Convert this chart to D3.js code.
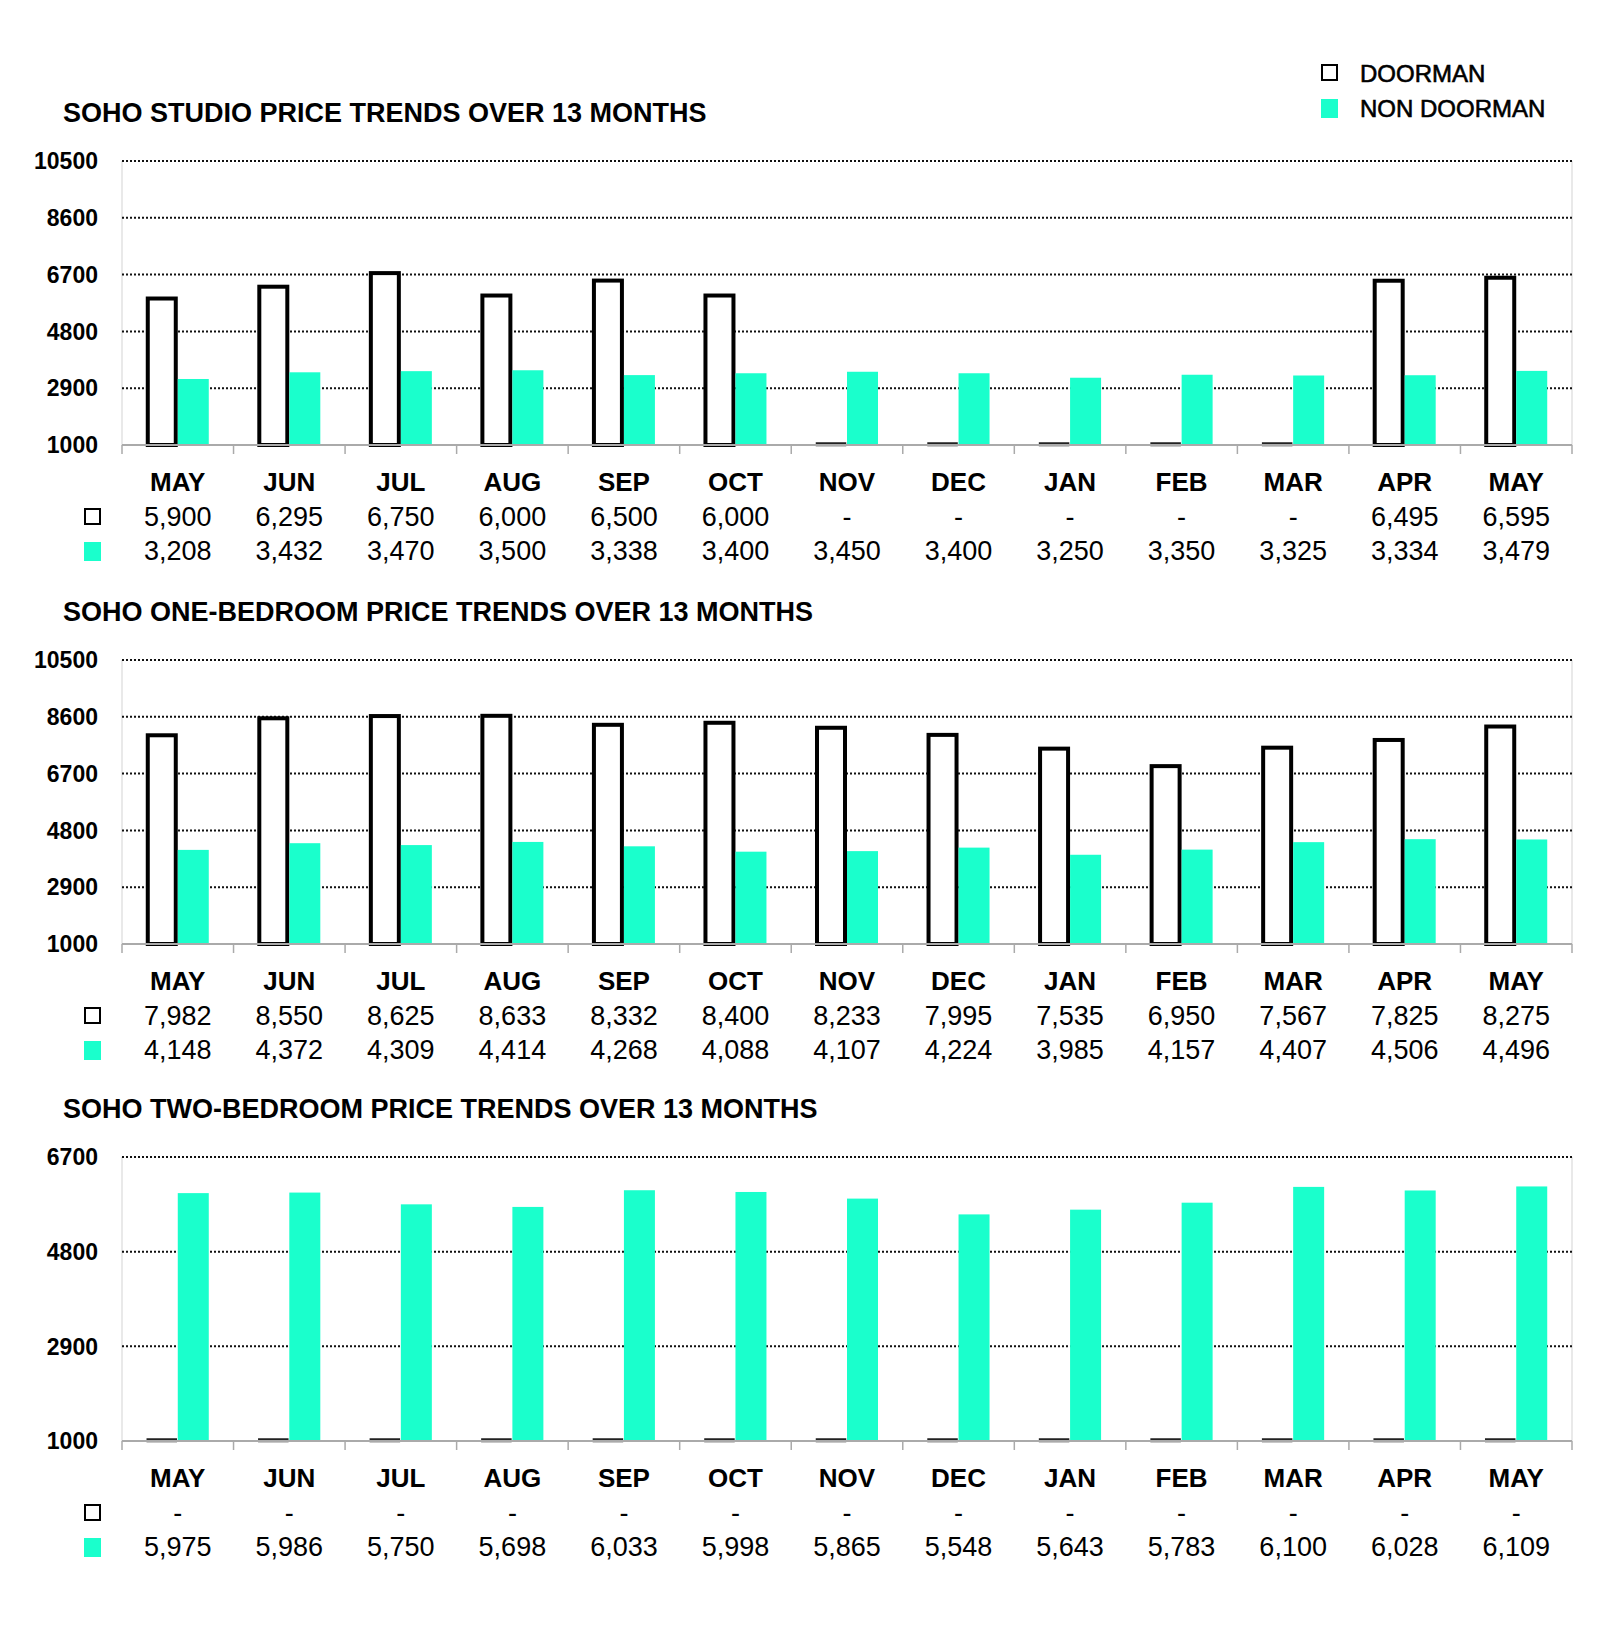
<!DOCTYPE html>
<html>
  <head>
    <meta charset="utf-8" />
    <title>SoHo price trends</title>
    <script src="https://cdn.jsdelivr.net/npm/d3@7/dist/d3.min.js"></script>
    <style>
      body { margin: 0; background: #fff; }
      text { font-family: "Liberation Sans", Arial, sans-serif; fill: #000; }
    </style>
  </head>
  <body>
    <svg width="1600" height="1641" id="mainsvg" style="display: block"></svg>
    <script>
      // data
      const months = ["MAY", "JUN", "JUL", "AUG", "SEP", "OCT", "NOV", "DEC", "JAN", "FEB", "MAR", "APR", "MAY"];
      const studioDoorman = [5900, 6295, 6750, 6000, 6500, 6000, null, null, null, null, null, 6495, 6595];
      const studioNonDoorman = [3208, 3432, 3470, 3500, 3338, 3400, 3450, 3400, 3250, 3350, 3325, 3334, 3479];
      const oneBedDoorman = [7982, 8550, 8625, 8633, 8332, 8400, 8233, 7995, 7535, 6950, 7567, 7825, 8275];
      const oneBedNonDoorman = [4148, 4372, 4309, 4414, 4268, 4088, 4107, 4224, 3985, 4157, 4407, 4506, 4496];
      const twoBedDoorman = [null, null, null, null, null, null, null, null, null, null, null, null, null];
      const twoBedNonDoorman = [5975, 5986, 5750, 5698, 6033, 5998, 5865, 5548, 5643, 5783, 6100, 6028, 6109];
      const ticksLarge = [1000, 2900, 4800, 6700, 8600, 10500];
      const ticksSmall = [1000, 2900, 4800, 6700];
      const seriesNames = ["DOORMAN", "NON DOORMAN"];

      const GREEN = "#1affcc";
      const svg = d3.select("#mainsvg");
      const plotLeft = 122, plotRight = 1572, plotH = 284;

      const charts = [
        { title: "SOHO STUDIO PRICE TRENDS OVER 13 MONTHS", top: 161, ticks: ticksLarge, door: studioDoorman, non: studioNonDoorman },
        { title: "SOHO ONE-BEDROOM PRICE TRENDS OVER 13 MONTHS", top: 660, ticks: ticksLarge, door: oneBedDoorman, non: oneBedNonDoorman },
        { title: "SOHO TWO-BEDROOM PRICE TRENDS OVER 13 MONTHS", top: 1157, ticks: ticksSmall, door: twoBedDoorman, non: twoBedNonDoorman },
      ];

      // x: one band per month, two bars sit in the middle of it
      const x = d3.scaleBand().domain(d3.range(months.length)).range([plotLeft, plotRight]);
      const barW = 32;
      const off = (x.bandwidth() - barW * 2) / 2;
      const fmt = d3.format(",");

      charts.forEach(drawChart);

      function drawChart(c) {
        const g = svg.append("g");
        const base = c.top + plotH;
        const y = d3.scaleLinear()
          .domain([c.ticks[0], c.ticks[c.ticks.length - 1]])
          .range([base, c.top])
          .clamp(true);

        g.append("text")
          .attr("x", 63)
          .attr("y", c.top - 39)
          .attr("font-size", 27)
          .attr("font-weight", "bold")
          .text(c.title);

        // faint frame sides
        [plotLeft, plotRight].forEach((px) => {
          g.append("line")
            .attr("x1", px).attr("x2", px)
            .attr("y1", c.top).attr("y2", base)
            .attr("stroke", "#e2e2e2").attr("stroke-width", 1.5);
        });

        // dotted gridlines
        g.selectAll(".grid")
          .data(c.ticks.slice(1))
          .join("line")
          .attr("x1", plotLeft).attr("x2", plotRight)
          .attr("y1", (d) => y(d)).attr("y2", (d) => y(d))
          .attr("stroke", "#111")
          .attr("stroke-width", 2)
          .attr("stroke-dasharray", "2,2");

        g.selectAll(".ytick")
          .data(c.ticks)
          .join("text")
          .attr("x", 98)
          .attr("y", (d) => y(d))
          .attr("dy", "0.36em")
          .attr("text-anchor", "end")
          .attr("font-size", 23)
          .attr("font-weight", "bold")
          .text((d) => d);

        // bars; a missing value still leaves a flat outline on the axis
        const top = (d) => (d == null ? base - 1.5 : y(d));
        g.selectAll(".door")
          .data(c.door)
          .join("rect")
          .attr("x", (d, i) => x(i) + off + 2)
          .attr("width", barW - 4)
          .attr("y", top)
          .attr("height", (d) => base - top(d))
          .attr("fill", "#fff")
          .attr("stroke", (d) => (d == null ? "#222" : "#000"))
          .attr("stroke-width", (d) => (d == null ? 2.5 : 4));

        g.selectAll(".non")
          .data(c.non)
          .join("rect")
          .attr("x", (d, i) => x(i) + off + barW)
          .attr("width", barW - 1)
          .attr("y", (d) => y(d))
          .attr("height", (d) => base - y(d))
          .attr("fill", GREEN);

        // category axis with ticks between months
        g.append("line")
          .attr("x1", plotLeft).attr("x2", plotRight)
          .attr("y1", base).attr("y2", base)
          .attr("stroke", "#aaa").attr("stroke-width", 2);
        const bounds = d3.range(months.length).map((i) => x(i)).concat([plotRight]);
        g.selectAll(".xtick")
          .data(bounds)
          .join("line")
          .attr("x1", (d) => d).attr("x2", (d) => d)
          .attr("y1", base).attr("y2", base + 9)
          .attr("stroke", "#aaa").attr("stroke-width", 1.5);

        // data table
        const cx = (i) => x(i) + x.bandwidth() / 2;
        g.selectAll(".month")
          .data(months)
          .join("text")
          .attr("x", (d, i) => cx(i))
          .attr("y", base + 37)
          .attr("dy", "0.36em")
          .attr("text-anchor", "middle")
          .attr("font-size", 26)
          .attr("font-weight", "bold")
          .text((d) => d);

        [c.door, c.non].forEach((row, r) => {
          const ry = base + 71 + r * 34;
          g.selectAll(".row" + r)
            .data(row)
            .join("text")
            .attr("x", (d, i) => cx(i))
            .attr("y", ry)
            .attr("dy", "0.36em")
            .attr("text-anchor", "middle")
            .attr("font-size", 27)
            .text((d) => (d == null ? "-" : fmt(d)));
          swatch(g, 84, ry - 8, r);
        });
      }

      function swatch(g, sx, sy, r) {
        if (r === 0) {
          g.append("rect").attr("x", sx + 1).attr("y", sy + 1).attr("width", 15).attr("height", 15)
            .attr("fill", "#fff").attr("stroke", "#000").attr("stroke-width", 2);
        } else {
          g.append("rect").attr("x", sx).attr("y", sy).attr("width", 17).attr("height", 19).attr("fill", GREEN);
        }
      }

      // legend
      const legend = svg.append("g");
      seriesNames.forEach((name, i) => {
        const ly = 73 + i * 35;
        swatch(legend, 1321, ly - 9, i);
        legend.append("text")
          .attr("x", 1360)
          .attr("y", ly)
          .attr("dy", "0.36em")
          .attr("font-size", 24)
          .attr("stroke", "#000")
          .attr("stroke-width", 0.6)
          .text(name);
      });
    </script>
  </body>
</html>
